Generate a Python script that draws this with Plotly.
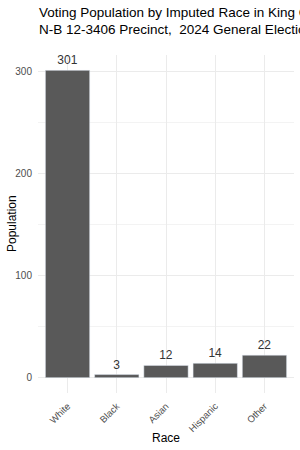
import plotly.graph_objects as go

races = ["White", "Black", "Asian", "Hispanic", "Other"]
population = [301, 3, 12, 14, 22]
y_ticks = [0, 100, 200, 300]
title_lines = ["Voting Population by Imputed Race in King County",
               "N-B 12-3406 Precinct,  2024 General Election"]
x_title = "Race"
y_title = "Population"

fig = go.Figure(go.Bar(
    x=races, y=population, marker_color="#595959", width=0.9,
    text=[str(v) for v in population], textposition="outside",
    textfont=dict(family="Liberation Sans, Arial", size=12, color="#333333"),
    cliponaxis=False,
))

fig.update_layout(
    width=300, height=450,
    margin=dict(l=38, r=6, t=55, b=57),
    paper_bgcolor="white", plot_bgcolor="white",
    font=dict(family="Liberation Sans, Arial", color="#000000"),
    title=dict(text="<br>".join(title_lines), x=0.13, xref="container", xanchor="left",
               y=0.963, yref="container", yanchor="top",
               font=dict(size=13.5, color="#000000")),
    showlegend=False,
    bargap=0.1,
    annotations=[
        dict(text=x_title, xref="paper", yref="paper", x=0.5, y=0,
             xanchor="center", yanchor="middle", yshift=-45, showarrow=False,
             font=dict(size=12, color="#000000")),
        dict(text=y_title, xref="paper", yref="paper", x=0, y=0.5,
             xanchor="center", yanchor="middle", xshift=-26, textangle=-90,
             showarrow=False, font=dict(size=12, color="#000000")),
    ],
)
fig.update_xaxes(
    range=[-0.6, 4.6], tickangle=-45, showgrid=True, gridcolor="#EBEBEB",
    gridwidth=1, tickfont=dict(size=9.5, color="#4D4D4D"), ticks="outside",
    ticklen=3, tickcolor="rgba(0,0,0,0)", automargin=False,
    zeroline=False, showline=False,
)
fig.update_yaxes(
    range=[-15.05, 316.05], tickvals=y_ticks, showgrid=True, gridcolor="#EBEBEB",
    gridwidth=1, tickfont=dict(size=10, color="#4D4D4D"), ticks="outside",
    ticklen=3, tickcolor="rgba(0,0,0,0)", automargin=False,
    minor=dict(tickvals=[50, 150, 250], showgrid=True, gridcolor="#F3F3F3", gridwidth=1),
    zeroline=False, showline=False,
)

fig.write_html("out.html")
